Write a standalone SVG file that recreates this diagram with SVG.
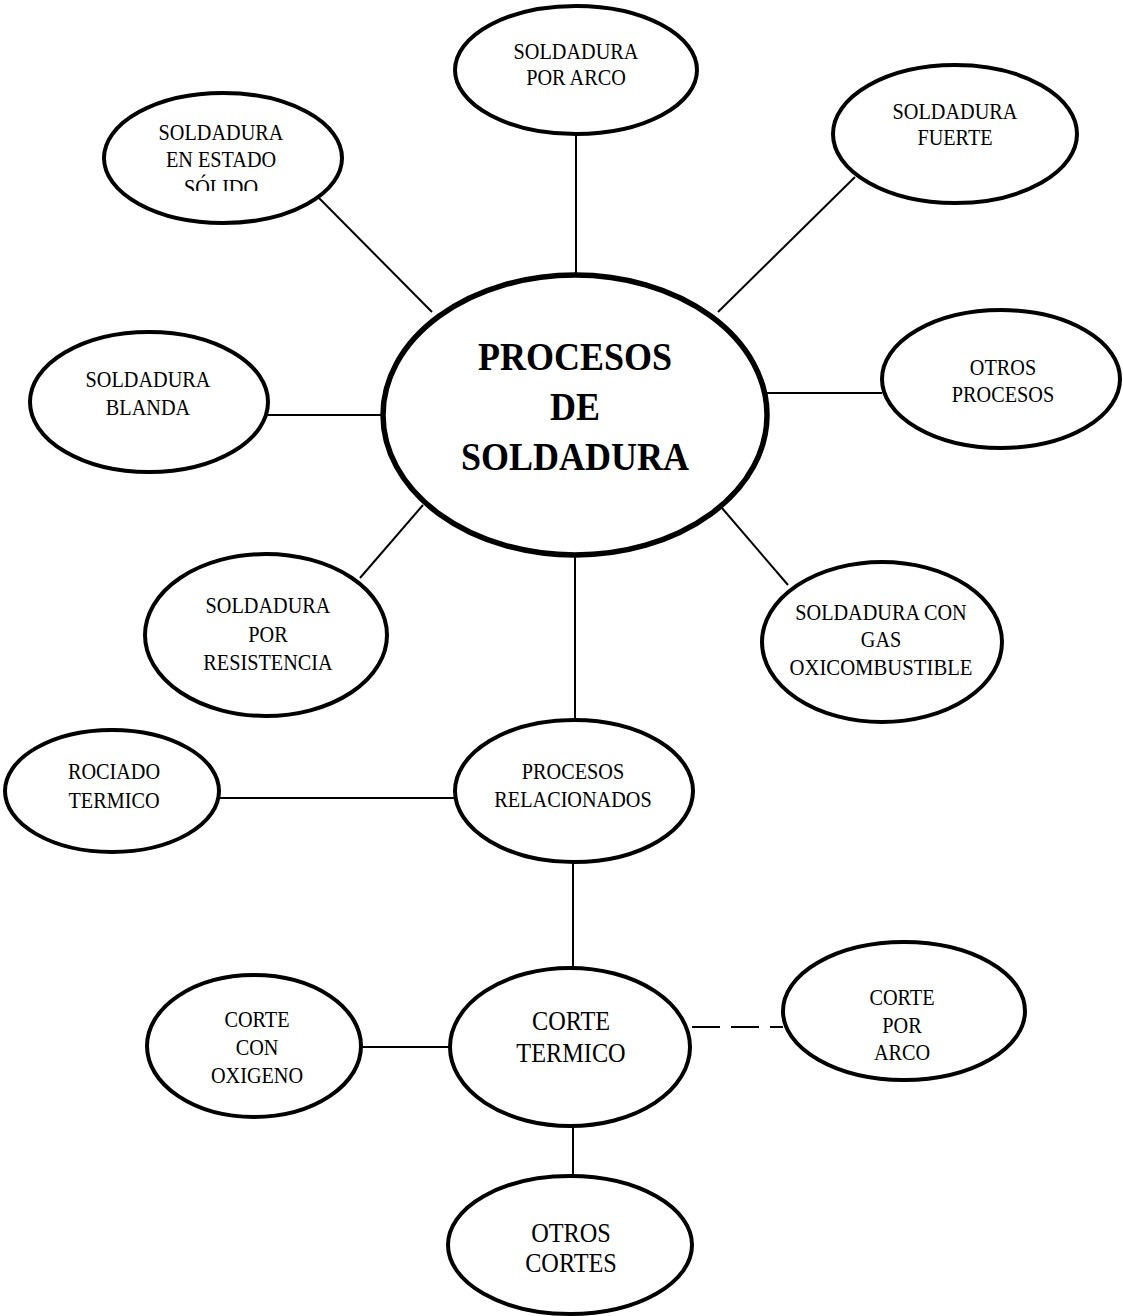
<svg xmlns="http://www.w3.org/2000/svg" width="1123" height="1316" viewBox="0 0 1123 1316">
<style>
  .bg { fill: #ffffff; }
  .node { fill: #ffffff; stroke: #000000; stroke-width: 4; }
  .main { fill: #ffffff; stroke: #000000; stroke-width: 5.5; }
  .conn { stroke: #000000; stroke-width: 2; fill: none; }
  .dash { stroke-dasharray: 28 11; }
  .t { font-family: "Liberation Serif", "Times New Roman", serif; font-size: 23px; fill: #000000; text-anchor: middle; }
  .tl { font-family: "Liberation Serif", "Times New Roman", serif; font-size: 27px; fill: #000000; text-anchor: middle; }
  .title { font-family: "Liberation Serif", "Times New Roman", serif; font-size: 40px; font-weight: bold; fill: #000000; text-anchor: middle; }
</style>
<defs>
  <clipPath id="clipSolido">
    <rect x="100" y="100" width="250" height="91"/>
  </clipPath>
</defs>
<rect class="bg" x="0" y="0" width="1123" height="1316"/>

<g id="connectors">
  <line class="conn" x1="576" y1="134" x2="576" y2="276"/>
  <line class="conn" x1="855" y1="177" x2="718" y2="312"/>
  <line class="conn" x1="318" y1="197" x2="432" y2="312"/>
  <line class="conn" x1="268" y1="415" x2="384" y2="415"/>
  <line class="conn" x1="766" y1="393" x2="882" y2="393"/>
  <line class="conn" x1="423" y1="505" x2="360" y2="578"/>
  <line class="conn" x1="722" y1="508" x2="788" y2="585"/>
  <line class="conn" x1="575" y1="555" x2="575" y2="720"/>
  <line class="conn" x1="218" y1="798" x2="455" y2="798"/>
  <line class="conn" x1="573" y1="862" x2="573" y2="968"/>
  <line class="conn" x1="361" y1="1047" x2="450" y2="1047"/>
  <line class="conn dash" x1="692" y1="1027" x2="783" y2="1027"/>
  <line class="conn" x1="573" y1="1126" x2="573" y2="1175"/>
</g>

<g id="node-arco">
  <ellipse class="node" cx="576" cy="70" rx="121" ry="64"/>
  <text class="t" transform="translate(576 0) scale(0.88 1)"><tspan x="0" y="59">SOLDADURA</tspan><tspan x="0" y="85">POR ARCO</tspan></text>
</g>

<g id="node-fuerte">
  <ellipse class="node" cx="955" cy="134" rx="122" ry="69"/>
  <text class="t" transform="translate(955 0) scale(0.88 1)"><tspan x="0" y="119">SOLDADURA</tspan><tspan x="0" y="145">FUERTE</tspan></text>
</g>

<g id="node-solido">
  <ellipse class="node" cx="223" cy="158" rx="119" ry="65"/>
  <text class="t" transform="translate(221 0) scale(0.88 1)"><tspan x="0" y="140">SOLDADURA</tspan><tspan x="0" y="167">EN ESTADO</tspan></text>
  <g clip-path="url(#clipSolido)">
    <text class="t" transform="translate(221 0) scale(0.88 1)"><tspan x="0" y="195">SÓLIDO</tspan></text>
  </g>
</g>

<g id="node-main">
  <ellipse class="main" cx="575" cy="415" rx="192" ry="140"/>
  <text class="title" transform="translate(575 0) scale(0.9 1)"><tspan x="0" y="370">PROCESOS</tspan><tspan x="0" y="420">DE</tspan><tspan x="0" y="470">SOLDADURA</tspan></text>
</g>

<g id="node-blanda">
  <ellipse class="node" cx="149" cy="402" rx="119" ry="70"/>
  <text class="t" transform="translate(148 0) scale(0.88 1)"><tspan x="0" y="387">SOLDADURA</tspan><tspan x="0" y="415">BLANDA</tspan></text>
</g>

<g id="node-otros-procesos">
  <ellipse class="node" cx="1001" cy="379" rx="119" ry="69"/>
  <text class="t" transform="translate(1003 0) scale(0.88 1)"><tspan x="0" y="375">OTROS</tspan><tspan x="0" y="402">PROCESOS</tspan></text>
</g>

<g id="node-resistencia">
  <ellipse class="node" cx="266" cy="635" rx="121" ry="81"/>
  <text class="t" transform="translate(268 0) scale(0.88 1)"><tspan x="0" y="613">SOLDADURA</tspan><tspan x="0" y="642">POR</tspan><tspan x="0" y="670">RESISTENCIA</tspan></text>
</g>

<g id="node-gas">
  <ellipse class="node" cx="882" cy="642" rx="120" ry="80"/>
  <text class="t" transform="translate(881 0) scale(0.88 1)"><tspan x="0" y="620">SOLDADURA CON</tspan><tspan x="0" y="647">GAS</tspan><tspan x="0" y="675" textLength="208" lengthAdjust="spacingAndGlyphs">OXICOMBUSTIBLE</tspan></text>
</g>

<g id="node-rociado">
  <ellipse class="node" cx="112" cy="791" rx="107" ry="61"/>
  <text class="t" transform="translate(114 0) scale(0.88 1)"><tspan x="0" y="779">ROCIADO</tspan><tspan x="0" y="808">TERMICO</tspan></text>
</g>

<g id="node-relacionados">
  <ellipse class="node" cx="574" cy="791" rx="119" ry="71"/>
  <text class="t" transform="translate(573 0) scale(0.88 1)"><tspan x="0" y="779">PROCESOS</tspan><tspan x="0" y="807">RELACIONADOS</tspan></text>
</g>

<g id="node-corte-termico">
  <ellipse class="node" cx="570" cy="1047" rx="120" ry="79"/>
  <text class="tl" transform="translate(571 0) scale(0.9 1)"><tspan x="0" y="1030">CORTE</tspan><tspan x="0" y="1062">TERMICO</tspan></text>
</g>

<g id="node-oxigeno">
  <ellipse class="node" cx="254" cy="1046" rx="107" ry="71"/>
  <text class="t" transform="translate(257 0) scale(0.88 1)"><tspan x="0" y="1027">CORTE</tspan><tspan x="0" y="1055">CON</tspan><tspan x="0" y="1083">OXIGENO</tspan></text>
</g>

<g id="node-corte-arco">
  <ellipse class="node" cx="904" cy="1011" rx="121" ry="69"/>
  <text class="t" transform="translate(902 0) scale(0.88 1)"><tspan x="0" y="1005">CORTE</tspan><tspan x="0" y="1033">POR</tspan><tspan x="0" y="1060">ARCO</tspan></text>
</g>

<g id="node-otros-cortes">
  <ellipse class="node" cx="570" cy="1245" rx="122" ry="69"/>
  <text class="tl" transform="translate(571 0) scale(0.9 1)"><tspan x="0" y="1242">OTROS</tspan><tspan x="0" y="1272">CORTES</tspan></text>
</g>
</svg>
